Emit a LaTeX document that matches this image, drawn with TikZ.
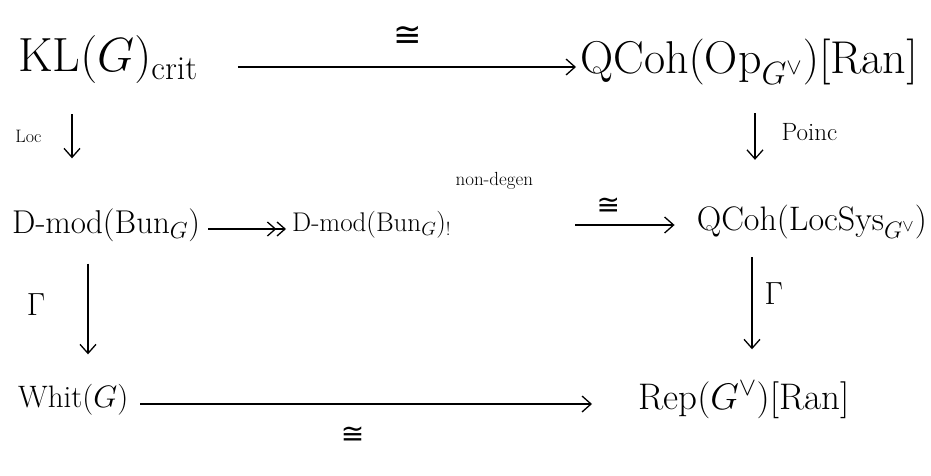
\RequirePackage{fix-cm}
\documentclass[tikz,border=0pt]{standalone}
\usepackage{amsmath}
\usepackage{fontspec}
\newfontfamily\symfont{DejaVu Sans}
\usetikzlibrary{arrows.meta,calc}
\newcommand\fsz[1]{\fontsize{#1}{#1}\selectfont}
\tikzset{
  obj/.style={inner sep=0pt},
  lbl/.style={inner sep=0pt},
  iso/.style={inner sep=0pt, font=\symfont\fsz{#1}},
  arr/.style={line width=1.3pt, -{Straight Barb[length=9pt,width=16pt,line width=1.3pt]}},
  epi/.style={line width=1.3pt, -{Straight Barb[length=8pt,width=14pt,line width=1.3pt]Straight Barb[length=8pt,width=14pt,line width=1.3pt]}},
}
\begin{document}
\begin{tikzpicture}[x=1pt,y=-1pt]
\useasboundingbox[fill=white] (0,0) rectangle (931,476);
% objects
\node[obj,font=\fsz{48},anchor=west] (KL) at (18,60) {$\mathrm{KL}(G)_{\mathrm{crit}}$};
\node[obj,font=\fsz{46},anchor=west] (QT) at (580,62) {$\mathrm{QCoh}(\mathrm{Op}_{G^\vee})[\mathrm{Ran}]$};
\node[obj,font=\fsz{33},anchor=west] (DM) at (12,225) {$\mathrm{D\text{-}mod}(\mathrm{Bun}_G)$};
\node[obj,font=\fsz{27},anchor=west] (DN) at (292,225) {$\mathrm{D\text{-}mod}(\mathrm{Bun}_G)_!$};
\node[lbl,font=\fsz{19},anchor=south west] (ND) at ([xshift=4pt,yshift=22pt]DN.north east) {non-degen};
\node[obj,font=\fsz{34},anchor=east] (QL) at (927,222) {$\mathrm{QCoh}(\mathrm{LocSys}_{G^\vee})$};
\node[obj,font=\fsz{31},anchor=west] (WH) at (18,400) {$\mathrm{Whit}(G)$};
\node[obj,font=\fsz{37},anchor=west] (RP) at (638,400) {$\mathrm{Rep}(G^\vee)[\mathrm{Ran}]$};
% horizontal arrows
\draw[arr,shorten <=40pt,shorten >=4pt] ([yshift=-7pt]KL.east) -- ([yshift=-7pt]KL.east -| QT.west)
  node[iso=34,pos=0.55,above=20pt] (c1) {≅};
\draw[epi,shorten <=8pt,shorten >=6pt] ([yshift=-4pt]DM.east) -- ([yshift=-4pt]DM.east -| DN.west);
\draw[arr,shorten <=124pt,shorten >=22pt] (DN.east) -- (DN.east -| QL.west)
  node[iso=28,pos=0.64,above=10pt] (c2) {≅};
\draw[arr,shorten <=12pt,shorten >=46pt] ([yshift=-4pt]WH.east) -- ([yshift=-4pt]WH.east -| RP.west)
  node[iso=28,pos=0.44,below=22pt] (c3) {≅};
% vertical arrows
\draw[arr] ([xshift=54pt,yshift=-30pt]KL.south west) -- ([xshift=60pt,yshift=50pt]DM.north west)
  node[lbl,midway,left=30pt,font=\fsz{18}] (l1) {$\mathrm{Loc}$};
\draw[arr] ([xshift=175pt,yshift=-28pt]QT.south west) -- ([xshift=-172pt,yshift=45pt]QL.north east)
  node[lbl,pos=0.4,right=26pt,font=\fsz{25}] (l2) {Poinc};
\draw[arr] ([xshift=76pt,yshift=-22pt]DM.south west) -- ([xshift=70pt,yshift=30pt]WH.north west)
  node[lbl,pos=0.45,left=42pt,font=\fsz{32}] (l3) {$\Gamma$};
\draw[arr] ([xshift=-175pt,yshift=-18pt]QL.south east) -- ([xshift=114pt,yshift=32pt]RP.north west)
  node[lbl,pos=0.4,right=12pt,font=\fsz{32}] (l4) {$\Gamma$};
\end{tikzpicture}
\end{document}
